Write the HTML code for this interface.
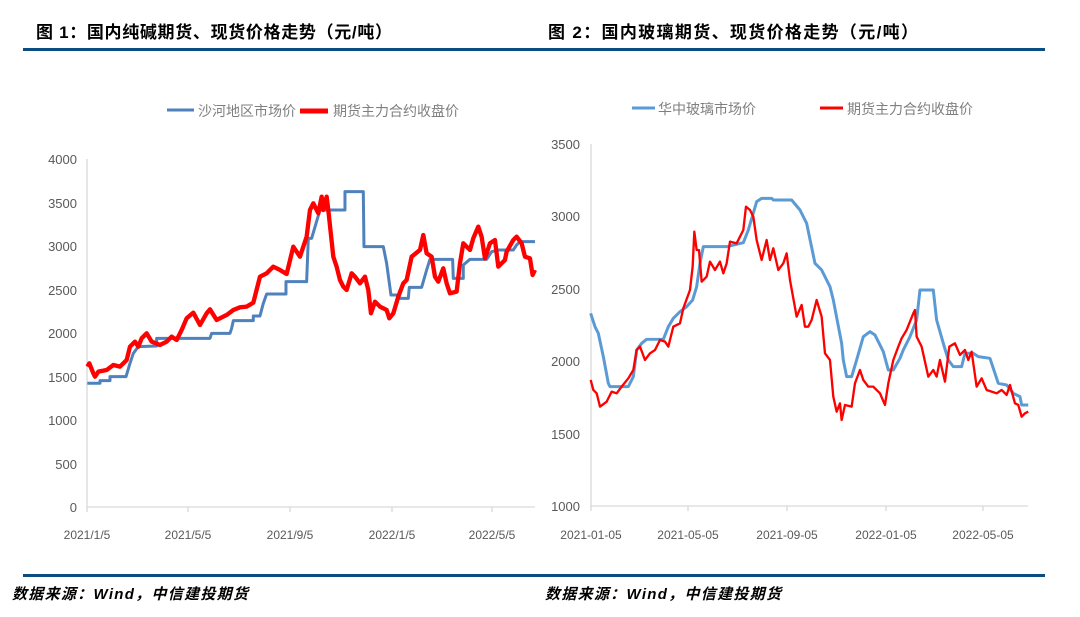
<!DOCTYPE html>
<html><head><meta charset="utf-8"><style>
body{margin:0;background:#fff;width:1080px;height:617px;overflow:hidden;font-family:"Liberation Sans","Noto Sans CJK SC",sans-serif}
svg{position:absolute;left:0;top:0}
</style></head><body>
<svg width="1080" height="617" viewBox="0 0 1080 617" xmlns="http://www.w3.org/2000/svg" font-family="Liberation Sans, Noto Sans CJK SC, sans-serif">
<text x="36" y="38" font-size="17" font-weight="bold" fill="#000" textLength="356">图 1：国内纯碱期货、现货价格走势（元/吨）</text>
<text x="548" y="38" font-size="17" font-weight="bold" fill="#000" textLength="370">图 2：国内玻璃期货、现货价格走势（元/吨）</text>
<rect x="23" y="48" width="1022" height="3" fill="#0b4d80"/>
<rect x="23" y="574" width="1022" height="3" fill="#0b4d80"/>
<text x="12" y="599" font-size="15" font-weight="bold" font-style="italic" fill="#000" textLength="236">数据来源：Wind，中信建投期货</text>
<text x="545" y="599" font-size="15" font-weight="bold" font-style="italic" fill="#000" textLength="236">数据来源：Wind，中信建投期货</text>

<!-- legends -->
<g font-size="14" fill="#7f7f7f">
<line x1="167" y1="110" x2="194" y2="110" stroke="#4f81bd" stroke-width="3"/>
<text x="198" y="116">沙河地区市场价</text>
<line x1="300" y1="111" x2="328" y2="111" stroke="#ff0000" stroke-width="5"/>
<text x="333" y="116">期货主力合约收盘价</text>
<line x1="632" y1="108" x2="655" y2="108" stroke="#5b9bd5" stroke-width="3"/>
<text x="658" y="114">华中玻璃市场价</text>
<line x1="820" y1="108" x2="843" y2="108" stroke="#ff0000" stroke-width="3"/>
<text x="847" y="114">期货主力合约收盘价</text>
</g>

<!-- chart 1 axes -->
<g stroke="#d9d9d9" stroke-width="1.3" fill="none">
<line x1="87" y1="159" x2="87" y2="508"/>
<line x1="87" y1="507" x2="535" y2="507"/>
<line x1="188" y1="507" x2="188" y2="512"/><line x1="290" y1="507" x2="290" y2="512"/><line x1="392" y1="507" x2="392" y2="512"/><line x1="492" y1="507" x2="492" y2="512"/><line x1="87" y1="507" x2="87" y2="512"/>
<line x1="591" y1="144" x2="591" y2="507"/>
<line x1="591" y1="506" x2="1028" y2="506"/>
<line x1="688" y1="506" x2="688" y2="511"/><line x1="787" y1="506" x2="787" y2="511"/><line x1="886" y1="506" x2="886" y2="511"/><line x1="983" y1="506" x2="983" y2="511"/><line x1="591" y1="506" x2="591" y2="511"/>
</g>
<g font-size="13" fill="#595959" text-anchor="end">
<text x="77" y="164">4000</text><text x="77" y="208">3500</text><text x="77" y="251">3000</text><text x="77" y="295">2500</text><text x="77" y="338">2000</text><text x="77" y="382">1500</text><text x="77" y="425">1000</text><text x="77" y="469">500</text><text x="77" y="512">0</text>
<text x="580" y="149">3500</text><text x="580" y="221">3000</text><text x="580" y="294">2500</text><text x="580" y="366">2000</text><text x="580" y="439">1500</text><text x="580" y="511">1000</text>
</g>
<g font-size="12" fill="#595959" text-anchor="middle">
<text x="87" y="539">2021/1/5</text><text x="188" y="539">2021/5/5</text><text x="290" y="539">2021/9/5</text><text x="392" y="539">2022/1/5</text><text x="492" y="539">2022/5/5</text>
<text x="591" y="539">2021-01-05</text><text x="688" y="539">2021-05-05</text><text x="787" y="539">2021-09-05</text><text x="886" y="539">2022-01-05</text><text x="983" y="539">2022-05-05</text>
</g>

<g transform="translate(40,150) scale(0.3333)" fill="none" stroke-linejoin="round">
<polyline stroke="#4f81bd" stroke-width="9" points="142,700 180,700 180,692 210,692 210,680 258,680 270,640 280,610 295,590 350,588 350,565 510,565 515,550 570,550 575,535 580,512 640,512 640,498 660,498 670,460 680,432 738,432 738,395 800,395 805,265 815,265 840,180 915,180 915,125 970,125 972,290 1030,290 1040,340 1053,435 1075,435 1080,445 1105,445 1108,412 1145,412 1160,360 1170,328 1238,328 1240,385 1270,385 1270,345 1290,328 1340,328 1355,305 1375,300 1420,300 1430,285 1440,275 1485,275"/>
<polyline stroke="#ff0000" stroke-width="13" points="142,650 148,640 160,670 165,680 175,665 200,660 220,645 240,650 260,630 270,590 285,575 295,590 305,565 320,550 335,575 360,585 380,575 395,560 410,570 425,540 440,505 460,488 480,525 500,490 510,478 530,510 560,495 580,480 600,472 620,470 640,458 660,380 680,370 700,350 720,360 740,372 760,290 780,320 800,260 810,180 820,160 835,190 845,140 850,180 860,140 865,180 880,320 890,350 900,390 910,410 920,420 935,370 945,380 960,400 975,380 985,420 993,490 1005,455 1020,470 1040,480 1048,505 1060,490 1075,440 1090,400 1100,390 1115,320 1140,300 1150,255 1160,310 1175,320 1185,380 1195,395 1210,355 1220,400 1230,430 1250,425 1260,340 1270,280 1290,300 1300,265 1315,230 1325,260 1335,325 1350,280 1365,270 1375,350 1395,330 1400,305 1420,270 1430,260 1445,280 1455,320 1470,325 1478,375 1485,360"/>
</g>

<g transform="translate(540,130) scale(0.3333)" fill="none" stroke-linejoin="round">
<polyline stroke="#5b9bd5" stroke-width="9" points="152,550 165,590 175,610 190,680 205,760 210,770 265,770 280,740 290,660 305,640 320,628 370,628 385,590 400,565 420,545 440,530 458,510 470,470 480,400 490,350 560,350 610,338 625,300 650,215 665,205 695,205 700,210 755,210 780,240 800,280 825,400 845,420 870,470 880,510 905,640 910,690 920,740 935,740 950,690 970,620 990,605 1005,615 1030,665 1045,720 1060,720 1080,685 1090,660 1110,620 1130,570 1140,480 1180,480 1190,570 1210,640 1225,690 1240,710 1265,710 1275,670 1300,670 1315,680 1350,685 1375,760 1400,765 1420,790 1440,800 1445,825 1465,825"/>
<polyline stroke="#ff0000" stroke-width="7" points="152,750 160,780 170,790 180,830 200,815 215,785 230,790 245,770 265,745 280,720 290,660 300,650 315,690 330,670 345,660 360,630 375,635 385,650 400,590 420,580 430,535 450,480 458,410 463,305 470,360 477,360 485,455 500,440 510,395 525,420 540,395 550,430 560,400 570,335 590,340 610,300 618,230 630,240 640,260 650,330 665,390 680,330 690,390 700,355 715,420 730,400 740,370 750,450 770,560 785,525 795,590 805,590 815,570 830,510 845,560 855,670 870,690 880,800 890,845 900,820 905,870 915,825 935,830 945,760 960,720 970,750 985,770 1000,770 1020,790 1035,825 1045,760 1060,690 1075,650 1085,625 1100,600 1120,550 1125,540 1130,620 1145,650 1165,740 1180,720 1190,740 1200,690 1215,755 1228,650 1245,640 1260,675 1275,660 1285,690 1295,665 1310,770 1325,745 1340,780 1355,785 1370,790 1385,780 1400,795 1410,765 1425,820 1435,825 1445,860 1455,850 1465,845"/>
</g>
</svg>
</body></html>
